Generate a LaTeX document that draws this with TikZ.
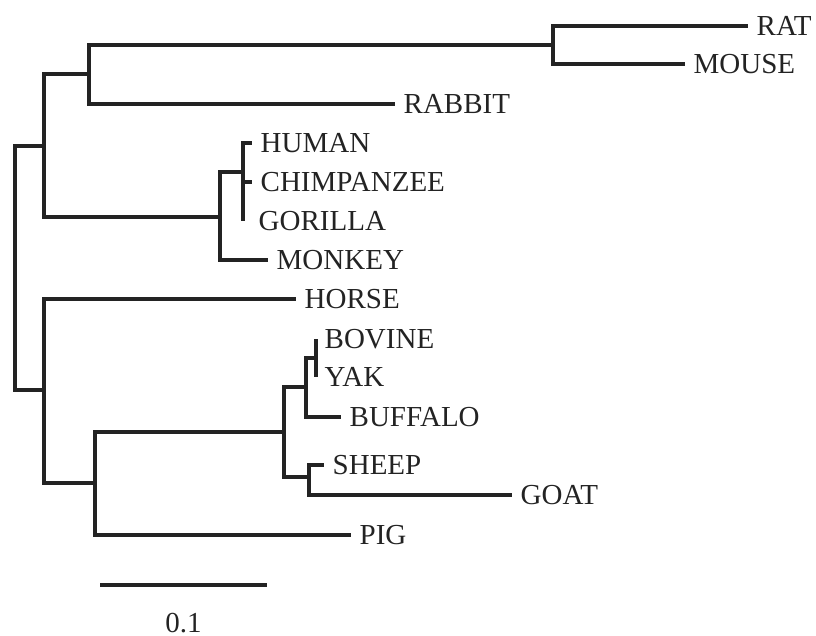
\documentclass[tikz,border=0pt]{standalone}
\usepackage{fontspec}
\setmainfont{Liberation Serif}
\definecolor{lc}{RGB}{35,35,35}
\begin{document}
\begin{tikzpicture}[x=1pt,y=-1pt,
  branch/.style={draw=lc,line width=3.2pt},
  taxon/.style={anchor=base west,inner sep=0pt,text=lc,font=\fontsize{29}{34}\selectfont,xshift=8.5pt,yshift=-9.6pt},
  scalelabel/.style={anchor=base,inner sep=0pt,text depth=0pt,text=lc,font=\fontsize{29}{34}\selectfont}]
\useasboundingbox (0,0) rectangle (816,636);
% internal nodes
\coordinate (root) at (15,268);
\coordinate (n1) at (44,146);
\coordinate (n2) at (89,74);
\coordinate (nrm) at (553,45);
\coordinate (npri) at (220,217);
\coordinate (nhcg) at (243,172);
\coordinate (n3) at (44,390);
\coordinate (n4) at (95,483);
\coordinate (nbov) at (284,432);
\coordinate (ncat) at (306,387);
\coordinate (nby) at (316,358);
\coordinate (nsg) at (309,477);
% tips
\coordinate (RAT) at (748,26);
\coordinate (MOUSE) at (685,64);
\coordinate (RABBIT) at (395,104);
\coordinate (HUMAN) at (252,143);
\coordinate (CHIMP) at (252,182);
\coordinate (GORILLA) at (243,221);
\coordinate (MONKEY) at (268,260);
\coordinate (HORSE) at (296,299);
\coordinate (BOVINE) at (316,339);
\coordinate (YAK) at (316,377);
\coordinate (BUFFALO) at (341,417);
\coordinate (SHEEP) at (324,465);
\coordinate (GOAT) at (512,495);
\coordinate (PIG) at (351,535);
% branches
\draw[branch] (root) |- (n1);
\draw[branch] (root) |- (n3);
\draw[branch] (n1) |- (n2);
\draw[branch] (n1) |- (npri);
\draw[branch] (n2) |- (nrm);
\draw[branch] (n2) |- (RABBIT);
\draw[branch] (nrm) |- (RAT);
\draw[branch] (nrm) |- (MOUSE);
\draw[branch] (npri) |- (nhcg);
\draw[branch] (npri) |- (MONKEY);
\draw[branch] (nhcg) |- (HUMAN);
\draw[branch] (nhcg) |- (CHIMP);
\draw[branch] (nhcg) |- (GORILLA);
\draw[branch] (n3) |- (HORSE);
\draw[branch] (n3) |- (n4);
\draw[branch] (n4) |- (nbov);
\draw[branch] (n4) |- (PIG);
\draw[branch] (nbov) |- (ncat);
\draw[branch] (nbov) |- (nsg);
\draw[branch] (ncat) |- (nby);
\draw[branch] (ncat) |- (BUFFALO);
\draw[branch] (nby) |- (BOVINE);
\draw[branch] (nby) |- (YAK);
\draw[branch] (nsg) |- (SHEEP);
\draw[branch] (nsg) |- (GOAT);
% labels
\node[taxon] (lRAT) at (RAT) {RAT};
\node[taxon] (lMOUSE) at (MOUSE) {MOUSE};
\node[taxon] (lRABBIT) at (RABBIT) {RABBIT};
\node[taxon] (lHUMAN) at (HUMAN) {HUMAN};
\node[taxon] (lCHIMP) at (CHIMP) {CHIMPANZEE};
\node[taxon,xshift=7pt] (lGORILLA) at (GORILLA) {GORILLA};
\node[taxon] (lMONKEY) at (MONKEY) {MONKEY};
\node[taxon] (lHORSE) at (HORSE) {HORSE};
\node[taxon] (lBOVINE) at (BOVINE) {BOVINE};
\node[taxon] (lYAK) at (YAK) {YAK};
\node[taxon] (lBUFFALO) at (BUFFALO) {BUFFALO};
\node[taxon] (lSHEEP) at (SHEEP) {SHEEP};
\node[taxon] (lGOAT) at (GOAT) {GOAT};
\node[taxon] (lPIG) at (PIG) {PIG};
% scale bar
\coordinate (sb1) at (100,585);
\coordinate (sb2) at (267,585);
\draw[branch] (sb1) -- (sb2);
\node[scalelabel] (sbl) at (183.5,632) {0.1};
\end{tikzpicture}
\end{document}
